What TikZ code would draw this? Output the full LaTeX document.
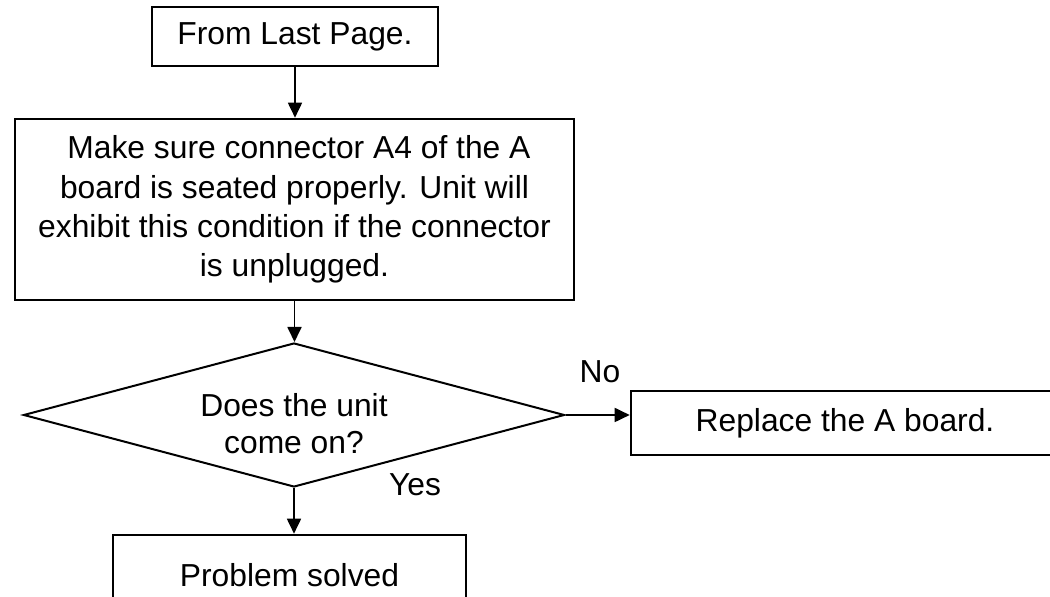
\documentclass[tikz,border=0pt]{standalone}
\usepackage{fontspec}
\setmainfont{Liberation Sans}
\usetikzlibrary{shapes.geometric,arrows.meta}
\begin{document}
\begin{tikzpicture}[x=0.5pt,y=-0.5pt,
  box/.style={draw,line width=1.3pt,inner sep=0pt,align=center,font=\fontsize{15.9}{19.6}\selectfont},
  dec/.style={draw,diamond,line width=1pt,inner sep=0pt,aspect=3.76,minimum width=270.5pt,minimum height=72pt,font=\fontsize{15.9}{18.5}\selectfont},
  conn/.style={line width=0.9pt,-{Triangle[length=7.5pt,width=7pt]}},
  lbl/.style={font=\fontsize{15.9}{18}\selectfont,inner sep=0pt}]
\useasboundingbox (0,0) rectangle (1050,597);
\node[box,minimum width=143pt,minimum height=29.5pt] (start) at (295,36.5) {From Last Page.};
\node[box,minimum width=279.5pt,minimum height=90.5pt] (check) at (294.5,209.5)
  {\hspace{0.28em}Make sure connector A4 of the A\\board is seated properly. Unit will\\exhibit this condition if the connector\\is unplugged.};
\node[dec] (q) at (294,415) {\raisebox{-10.5pt}[0pt][0pt]{\begin{tabular}{@{}c@{}}Does the unit\\come on?\end{tabular}}};
\node[box,minimum width=214pt,minimum height=32pt] (replace) at (845,423) {Replace the A board.};
\node[box,minimum width=176.5pt,minimum height=40pt] (solved) at (289.5,575) {Problem solved};
\draw[conn] (start.south) -- (start.south |- check.north);
\draw[conn] (check.south) -- (check.south |- q.north);
\draw[conn] (q.east) -- (q.east -| replace.west);
\draw[conn] (q.south) -- (q.south |- solved.north);
\node[lbl] (no) at (600,372) {No};
\node[lbl] (yes) at (415,485) {Yes};
\end{tikzpicture}
\end{document}
